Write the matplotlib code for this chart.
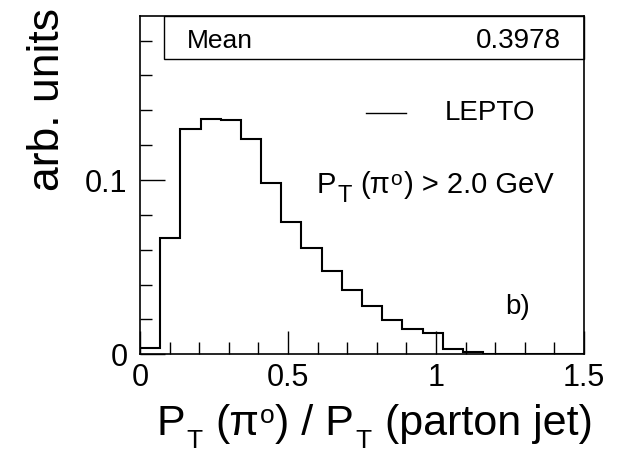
import numpy as np
import matplotlib.pyplot as plt
from matplotlib.ticker import MultipleLocator, FixedLocator, FixedFormatter
from matplotlib.patches import Rectangle

plt.rcParams['font.family'] = ['Liberation Sans', 'DejaVu Sans']

# 22 bins over [0, 1.5]
bin_edges = np.linspace(0, 1.5, 23)
lepto = [0.0034, 0.0666, 0.1293, 0.1352, 0.1344, 0.1235, 0.0981, 0.0757,
         0.0612, 0.0480, 0.0371, 0.0275, 0.0197, 0.0145, 0.0122, 0.0029,
         0.0011, 0.0003, 0.0, 0.0, 0.0, 0.0]
mean_value = "0.3978"
xtick_vals = [0, 0.5, 1, 1.5]
xtick_labels = ["0", "0.5", "1", "1.5"]
ytick_vals = [0, 0.1]
ytick_labels = ["0", "0.1"]

W, H = 621, 453
fig = plt.figure(figsize=(W / 100, H / 100), dpi=100)
ax = fig.add_axes([140/W, 1-354.3/H, 444/W, 338.6/H])
renderer = fig.canvas.get_renderer()


def chain_text(x0, y0, pieces):
    # pieces: (text, size, baseline shift down in px, gap before in px)
    x = x0
    for s, size, dy, gap in pieces:
        x += gap
        t = fig.text(x / W, 1 - (y0 + dy) / H, s, fontsize=size,
                     ha='left', va='baseline')
        x += t.get_window_extent(renderer).width
    return x


ax.stairs(lepto, bin_edges, color='black', linewidth=1.5, baseline=0)

ax.set_xlim(0, 1.5)
ax.set_ylim(0, 0.1943)

ax.xaxis.set_major_locator(FixedLocator(xtick_vals))
ax.xaxis.set_major_formatter(FixedFormatter(xtick_labels))
ax.xaxis.set_minor_locator(MultipleLocator(0.1))
ax.yaxis.set_major_locator(FixedLocator(ytick_vals))
ax.yaxis.set_major_formatter(FixedFormatter(ytick_labels))
ax.yaxis.set_minor_locator(MultipleLocator(0.02))

ax.tick_params(which='both', direction='in', top=False, right=False,
               labelsize=22, width=1.0)
ax.tick_params(axis='x', which='major', length=16.5, pad=6)
ax.tick_params(axis='y', which='major', length=18, pad=9)
ax.tick_params(which='minor', length=8.5)
for s in ax.spines.values():
    s.set_linewidth(1.2)

# stats box
ax.add_patch(Rectangle((0.054, 0.872), 0.946, 0.128, transform=ax.transAxes,
                       fill=False, edgecolor='black', linewidth=1.0, clip_on=False))
ax.text(0.106, 0.9037, "Mean", transform=ax.transAxes, fontsize=19,
        ha='left', va='baseline')
ax.text(0.949, 0.9037, mean_value, transform=ax.transAxes, fontsize=20,
        ha='right', va='baseline')

# legend
ax.plot([0.509, 0.599], [0.7126, 0.7126], transform=ax.transAxes,
        color='black', linewidth=1.0)
ax.text(0.687, 0.7126, "LEPTO", transform=ax.transAxes, fontsize=20,
        ha='left', va='center')

chain_text(317, 193.3, [("P", 21, 0, 0), ("T", 17, 9, 1), ("(π", 21, 0, 9),
                        ("o", 15, -8, 0), (") > 2.0 GeV", 21, 0, 2)])
ax.text(0.822, 0.119, "b)", transform=ax.transAxes, fontsize=20,
        ha='left', va='baseline')

chain_text(157, 435, [("P", 31, 0, 0), ("T", 19, 13, 1), ("(π", 31, 0, 13),
                      ("o", 19, -12, 0), (") / P", 31, 0, 1), ("T", 19, 13, 1),
                      ("(parton jet)", 31, 0, 14)])
fig.text(27/W, 1-8/H, "arb. units", fontsize=32, rotation=90,
         ha='left', va='top')

fig.savefig("out.png", dpi=100)
